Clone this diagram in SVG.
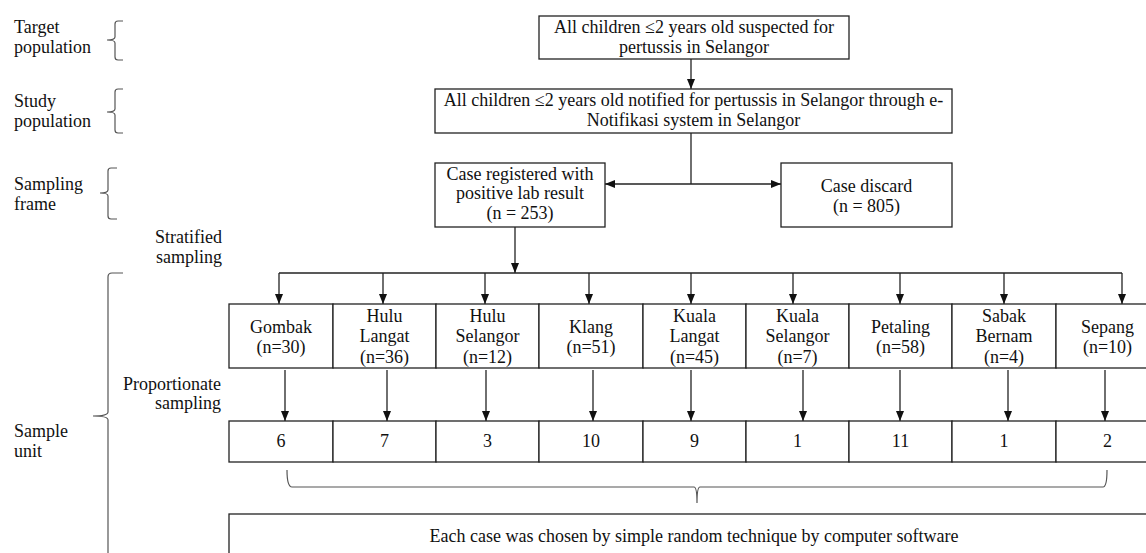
<svg xmlns="http://www.w3.org/2000/svg" width="1146" height="553" viewBox="0 0 1146 553">
<style>
text{font-family:"Liberation Serif","Times New Roman",serif;font-size:18px;fill:#111}
.c{text-anchor:middle}
.r{text-anchor:end}
.box{fill:#fff;stroke:#222;stroke-width:1.3}
.ln{fill:none;stroke:#222;stroke-width:1.3}
.br{fill:none;stroke:#555;stroke-width:1.2}
</style>
<defs>
<marker id="ah" markerUnits="userSpaceOnUse" markerWidth="10" markerHeight="8" refX="10" refY="4" orient="auto">
<path d="M0,0 L10,4 L0,8 z" fill="#111"/>
</marker>
</defs>
<rect width="1146" height="553" fill="#fff"/>

<g id="labels">
<text x="14" y="33">Target</text><text x="14" y="53">population</text>
<text x="14" y="107">Study</text><text x="14" y="127">population</text>
<text x="14" y="190">Sampling</text><text x="14" y="210">frame</text>
<text x="14" y="437">Sample</text><text x="14" y="457">unit</text>
<text class="r" x="222" y="243">Stratified</text><text class="r" x="222" y="263">sampling</text>
<text class="r" x="221" y="390">Proportionate</text><text class="r" x="221" y="409">sampling</text>
</g>

<g id="braces">
<path class="br" d="M123,21 H118 Q115,21 115,24 V37 Q115,40 107,40 Q115,40 115,43 V57 Q115,60 118,60 H123"/>
<path class="br" d="M123,89 H118 Q115,89 115,92 V109 Q115,112 107,112 Q115,112 115,115 V130 Q115,133 118,133 H123"/>
<path class="br" d="M117,168 H111 Q108,168 108,171 V190 Q108,193 100,193 Q108,193 108,196 V216 Q108,219 111,219 H117"/>
<path class="br" d="M123,273 H112 Q108,273 108,277 V412 Q108,416 93,416 Q108,416 108,420 V560"/>
<path class="br" d="M287,470 Q287,487 292,487 H694 Q697,487 697,503 Q697,487 700,487 H1103 Q1107,487 1107,470"/>
</g>

<g id="connectors">
<line class="ln" x1="691" y1="59" x2="691" y2="89" marker-end="url(#ah)"/>
<line class="ln" x1="691" y1="133" x2="691" y2="184"/>
<line class="ln" x1="691" y1="184" x2="605" y2="184" marker-end="url(#ah)"/>
<line class="ln" x1="691" y1="184" x2="781" y2="184" marker-end="url(#ah)"/>
<line class="ln" x1="515" y1="227" x2="515" y2="273" marker-end="url(#ah)"/>
<line class="ln" x1="279" y1="273" x2="1122" y2="273"/>
<line class="ln" x1="279" y1="273" x2="279" y2="304" marker-end="url(#ah)"/>
<line class="ln" x1="383" y1="273" x2="383" y2="304" marker-end="url(#ah)"/>
<line class="ln" x1="485" y1="273" x2="485" y2="304" marker-end="url(#ah)"/>
<line class="ln" x1="589" y1="273" x2="589" y2="304" marker-end="url(#ah)"/>
<line class="ln" x1="691" y1="273" x2="691" y2="304" marker-end="url(#ah)"/>
<line class="ln" x1="793" y1="273" x2="793" y2="304" marker-end="url(#ah)"/>
<line class="ln" x1="900" y1="273" x2="900" y2="304" marker-end="url(#ah)"/>
<line class="ln" x1="1004" y1="273" x2="1004" y2="304" marker-end="url(#ah)"/>
<line class="ln" x1="1122" y1="273" x2="1122" y2="304" marker-end="url(#ah)"/>
<line class="ln" x1="285" y1="370" x2="285" y2="421" marker-end="url(#ah)"/>
<line class="ln" x1="387" y1="370" x2="387" y2="421" marker-end="url(#ah)"/>
<line class="ln" x1="486" y1="370" x2="486" y2="421" marker-end="url(#ah)"/>
<line class="ln" x1="593" y1="370" x2="593" y2="421" marker-end="url(#ah)"/>
<line class="ln" x1="691" y1="370" x2="691" y2="421" marker-end="url(#ah)"/>
<line class="ln" x1="803" y1="370" x2="803" y2="421" marker-end="url(#ah)"/>
<line class="ln" x1="900" y1="370" x2="900" y2="421" marker-end="url(#ah)"/>
<line class="ln" x1="1008" y1="370" x2="1008" y2="421" marker-end="url(#ah)"/>
<line class="ln" x1="1105" y1="370" x2="1105" y2="421" marker-end="url(#ah)"/>
</g>

<g id="target">
<rect class="box" x="539" y="16" width="310" height="43"/>
<text class="c" x="694" y="33">All children ≤2 years old suspected for</text>
<text class="c" x="694" y="53">pertussis in Selangor</text>
</g>
<g id="study">
<rect class="box" x="435" y="89" width="517" height="44"/>
<text class="c" x="693.5" y="106">All children ≤2 years old notified for pertussis in Selangor through e-</text>
<text class="c" x="693.5" y="126">Notifikasi system in Selangor</text>
</g>
<g id="registered">
<rect class="box" x="435" y="163" width="170" height="64"/>
<text class="c" x="520" y="180">Case registered with</text>
<text class="c" x="520" y="199">positive lab result</text>
<text class="c" x="520" y="219">(n = 253)</text>
</g>
<g id="discard">
<rect class="box" x="781" y="163" width="171" height="64"/>
<text class="c" x="866.5" y="192">Case discard</text>
<text class="c" x="866.5" y="212">(n = 805)</text>
</g>

<g id="d-gombak"><rect class="box" x="229" y="304" width="104" height="64"/><text class="c" x="281" y="333">Gombak</text><text class="c" x="281" y="353">(n=30)</text></g>
<g id="d-hululangat"><rect class="box" x="333" y="304" width="103" height="64"/><text class="c" x="384.5" y="322">Hulu</text><text class="c" x="384.5" y="342">Langat</text><text class="c" x="384.5" y="363">(n=36)</text></g>
<g id="d-huluselangor"><rect class="box" x="436" y="304" width="103" height="64"/><text class="c" x="487.5" y="322">Hulu</text><text class="c" x="487.5" y="342">Selangor</text><text class="c" x="487.5" y="363">(n=12)</text></g>
<g id="d-klang"><rect class="box" x="539" y="304" width="104" height="64"/><text class="c" x="591" y="333">Klang</text><text class="c" x="591" y="353">(n=51)</text></g>
<g id="d-kualalangat"><rect class="box" x="643" y="304" width="103" height="64"/><text class="c" x="694.5" y="322">Kuala</text><text class="c" x="694.5" y="342">Langat</text><text class="c" x="694.5" y="363">(n=45)</text></g>
<g id="d-kualaselangor"><rect class="box" x="746" y="304" width="103" height="64"/><text class="c" x="797.5" y="322">Kuala</text><text class="c" x="797.5" y="342">Selangor</text><text class="c" x="797.5" y="363">(n=7)</text></g>
<g id="d-petaling"><rect class="box" x="849" y="304" width="103" height="64"/><text class="c" x="900.5" y="333">Petaling</text><text class="c" x="900.5" y="353">(n=58)</text></g>
<g id="d-sabakbernam"><rect class="box" x="952" y="304" width="104" height="64"/><text class="c" x="1004" y="322">Sabak</text><text class="c" x="1004" y="342">Bernam</text><text class="c" x="1004" y="363">(n=4)</text></g>
<g id="d-sepang"><rect class="box" x="1056" y="304" width="103" height="64"/><text class="c" x="1107.5" y="333">Sepang</text><text class="c" x="1107.5" y="353">(n=10)</text></g>

<g id="n-gombak"><rect class="box" x="229" y="421" width="104" height="41"/><text class="c" x="281" y="447">6</text></g>
<g id="n-hululangat"><rect class="box" x="333" y="421" width="103" height="41"/><text class="c" x="384.5" y="447">7</text></g>
<g id="n-huluselangor"><rect class="box" x="436" y="421" width="103" height="41"/><text class="c" x="487.5" y="447">3</text></g>
<g id="n-klang"><rect class="box" x="539" y="421" width="104" height="41"/><text class="c" x="591" y="447">10</text></g>
<g id="n-kualalangat"><rect class="box" x="643" y="421" width="103" height="41"/><text class="c" x="694.5" y="447">9</text></g>
<g id="n-kualaselangor"><rect class="box" x="746" y="421" width="103" height="41"/><text class="c" x="797.5" y="447">1</text></g>
<g id="n-petaling"><rect class="box" x="849" y="421" width="103" height="41"/><text class="c" x="900.5" y="447">11</text></g>
<g id="n-sabakbernam"><rect class="box" x="952" y="421" width="104" height="41"/><text class="c" x="1004" y="447">1</text></g>
<g id="n-sepang"><rect class="box" x="1056" y="421" width="103" height="41"/><text class="c" x="1107.5" y="447">2</text></g>

<g id="random">
<rect class="box" x="229" y="514" width="930" height="60"/>
<text class="c" x="694" y="542">Each case was chosen by simple random technique by computer software</text>
</g>
</svg>
